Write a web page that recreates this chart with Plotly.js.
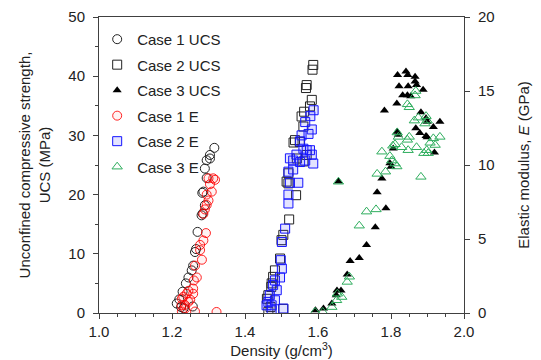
<!DOCTYPE html>
<html>
<head>
<meta charset="utf-8">
<script src="https://cdn.plot.ly/plotly-3.0.1.min.js"></script>
<style>
  html, body { margin: 0; padding: 0; background: #ffffff; }
  #chart { width: 541px; height: 360px; }
</style>
</head>
<body>
<div id="chart"></div>
<script>
// Case 1: UCS (MPa) and elastic modulus E (GPa) against density (g/cm3)
const case1UcsDensity = [1.213, 1.220, 1.225, 1.232, 1.229, 1.238, 1.245, 1.254, 1.257, 1.258, 1.263, 1.266, 1.270, 1.281, 1.284, 1.290, 1.283, 1.286, 1.295, 1.290, 1.295, 1.304, 1.304, 1.316];
const case1Ucs        = [1.6, 2.3, 1.0, 0.8, 3.6, 5.0, 6.0, 7.2, 1.1, 8.0, 10.3, 10.8, 13.7, 16.5, 16.8, 18.2, 20.3, 20.5, 22.8, 24.4, 25.8, 26.1, 26.7, 27.9];

const case1EDensity = [1.318, 1.313, 1.300, 1.304, 1.309, 1.295, 1.300, 1.295, 1.290, 1.286, 1.293, 1.286, 1.277, 1.277, 1.282, 1.263, 1.268, 1.260, 1.258, 1.245, 1.258, 1.240, 1.231, 1.227, 1.245, 1.226, 1.236, 1.227, 1.263, 1.322, 1.235, 1.250];
const case1E        = [9.0, 9.1, 9.1, 8.7, 8.2, 8.0, 7.6, 7.3, 7.0, 6.7, 5.4, 4.9, 4.6, 4.25, 3.6, 3.2, 2.4, 2.2, 1.65, 1.5, 1.3, 1.3, 1.1, 0.97, 0.75, 0.52, 0.3, 0.1, 0.1, 0.07, 0.55, 0.9];

// Case 2
const case2UcsDensity = [1.587, 1.585, 1.569, 1.567, 1.583, 1.578, 1.562, 1.555, 1.560, 1.537, 1.533, 1.550, 1.542, 1.560, 1.569, 1.519, 1.514, 1.519, 1.540, 1.521, 1.505, 1.500, 1.496, 1.482, 1.477, 1.473, 1.472, 1.464, 1.460, 1.470, 1.464, 1.505];
const case2Ucs        = [41.9, 41.1, 38.5, 38.0, 36.0, 34.9, 34.0, 33.2, 31.5, 29.2, 28.8, 28.9, 26.1, 25.6, 26.7, 23.6, 22.2, 21.9, 19.9, 15.8, 13.2, 12.3, 9.2, 7.2, 6.1, 5.0, 4.4, 3.0, 2.4, 1.0, 0.2, 0.7];

const case2EDensity = [1.588, 1.579, 1.565, 1.583, 1.574, 1.555, 1.551, 1.560, 1.569, 1.578, 1.523, 1.532, 1.551, 1.565, 1.587, 1.583, 1.541, 1.519, 1.532, 1.546, 1.523, 1.519, 1.519, 1.510, 1.501, 1.498, 1.501, 1.496, 1.482, 1.477, 1.487, 1.468, 1.464, 1.459, 1.473, 1.473, 1.505, 1.482];
const case2E        = [13.7, 13.3, 12.9, 12.4, 12.1, 12.0, 11.6, 11.1, 11.0, 11.0, 10.45, 10.3, 10.2, 10.3, 10.1, 10.7, 10.7, 9.55, 9.7, 8.8, 8.8, 8.0, 7.4, 5.7, 4.8, 3.57, 3.0, 2.4, 2.2, 1.9, 1.54, 1.2, 0.75, 0.52, 0.52, 0.18, 0.3, 0.86];

// Case 3
const case3UcsDensity = [1.818, 1.841, 1.846, 1.866, 1.866, 1.870, 1.822, 1.847, 1.832, 1.845, 1.854, 1.888, 1.816, 1.782, 1.882, 1.896, 1.899, 1.916, 1.934, 1.868, 1.879, 1.896, 1.899, 1.817, 1.820, 1.919, 1.806, 1.797, 1.800, 1.775, 1.656, 1.762, 1.786, 1.757, 1.733, 1.713, 1.688, 1.680, 1.663, 1.652, 1.650, 1.638, 1.615, 1.593];
const case3Ucs        = [40.2, 40.8, 40.2, 39.9, 39.1, 38.5, 38.3, 38.3, 36.8, 36.8, 36.6, 37.7, 35.4, 34.2, 33.9, 32.9, 32.3, 31.4, 32.3, 31.2, 30.4, 29.9, 29.7, 30.6, 30.1, 27.1, 27.8, 25.3, 24.7, 22.7, 22.2, 20.4, 17.7, 14.5, 11.5, 9.3, 8.8, 6.5, 3.8, 3.8, 3.0, 1.6, 0.75, 0.45];

const case3EDensity = [1.868, 1.866, 1.845, 1.850, 1.864, 1.875, 1.896, 1.899, 1.893, 1.934, 1.916, 1.921, 1.907, 1.898, 1.890, 1.902, 1.870, 1.850, 1.845, 1.817, 1.820, 1.811, 1.829, 1.847, 1.805, 1.797, 1.775, 1.802, 1.811, 1.816, 1.785, 1.762, 1.882, 1.656, 1.759, 1.733, 1.713, 1.686, 1.680, 1.665, 1.653, 1.651, 1.638, 1.613, 1.592];
const case3E        = [15.0, 14.7, 14.1, 13.9, 13.0, 13.2, 13.3, 13.0, 12.8, 11.9, 11.8, 11.35, 11.5, 11.0, 10.8, 10.8, 11.2, 11.9, 11.7, 12.2, 11.9, 11.4, 11.2, 11.0, 11.3, 10.6, 10.9, 10.3, 10.1, 9.9, 9.55, 9.4, 9.2, 8.87, 7.0, 6.85, 5.9, 2.45, 2.1, 1.08, 1.3, 0.86, 0.4, 0.07, 0.07];

const seriesNames = ['Case 1 UCS', 'Case 2 UCS', 'Case 3 UCS', 'Case 1 E', 'Case 2 E', 'Case 3 E'];

const FONT = 'Liberation Sans, Arial, sans-serif';
const GREEN = '#2fae5e';
const TEXT = '#222222';

function scatter(name, x, y, axis, marker, group) {
  return {
    type: 'scatter', mode: 'markers', name: name, x: x, y: y, yaxis: axis,
    legendgroup: group, marker: marker, hoverinfo: 'x+y'
  };
}

const traces = [
  scatter(seriesNames[0], case1UcsDensity, case1Ucs, 'y',
    {symbol: 'circle-open', size: 9, color: '#222222', line: {width: 1}}, 'g1'),
  scatter(seriesNames[1], case2UcsDensity, case2Ucs, 'y',
    {symbol: 'square-open', size: 9, color: '#222222', line: {width: 1}}, 'g2'),
  scatter(seriesNames[2], case3UcsDensity, case3Ucs, 'y',
    {symbol: 'triangle-up', size: 8, color: '#000000', line: {width: 0}}, 'g3'),
  scatter(seriesNames[3], case1EDensity, case1E, 'y2',
    {symbol: 'circle', size: 9, color: 'rgba(255,0,0,0.05)', line: {width: 1, color: 'rgba(255,0,0,0.85)'}}, 'g4'),
  scatter(seriesNames[4], case2EDensity, case2E, 'y2',
    {symbol: 'square', size: 9, color: 'rgba(70,70,255,0.15)', line: {width: 1, color: '#1414ff'}}, 'g5'),
  scatter(seriesNames[5], case3EDensity, case3E, 'y2',
    {symbol: 'triangle-up-open', size: 9, color: GREEN, line: {width: 1}}, 'g6')
];

const axisLine = '#404040';
const tickFont = {family: FONT, size: 15, color: TEXT};
const titleFont = {family: FONT, size: 15, color: TEXT};

const layout = {
  width: 541, height: 360,
  margin: {l: 99, r: 77, t: 17, b: 47},
  paper_bgcolor: '#ffffff', plot_bgcolor: '#ffffff',
  font: {family: FONT, size: 15, color: TEXT},
  showlegend: true,
  legend: {
    x: -0.005, y: 0.98, xanchor: 'left', yanchor: 'top',
    bgcolor: 'rgba(0,0,0,0)', font: {family: FONT, size: 15, color: TEXT},
    traceorder: 'grouped', tracegroupgap: 3, itemwidth: 30
  },
  xaxis: {
    range: [1.0, 2.0], dtick: 0.2, tick0: 1.0, tickformat: '.1f',
    ticks: 'outside', ticklen: 5, tickwidth: 1, tickcolor: axisLine,
    minor: {dtick: 0.05, ticks: 'outside', ticklen: 3, tickcolor: axisLine},
    showline: true, linecolor: axisLine, linewidth: 1, mirror: true,
    showgrid: false, zeroline: false, tickfont: tickFont,
    title: {text: 'Density (g/cm<sup>3</sup>)', font: titleFont, standoff: 6}
  },
  yaxis: {
    range: [0, 50], dtick: 10, tick0: 0,
    ticks: 'outside', ticklen: 5, tickwidth: 1, tickcolor: axisLine,
    minor: {dtick: 5, ticks: 'outside', ticklen: 3, tickcolor: axisLine},
    showline: true, linecolor: axisLine, linewidth: 1,
    showgrid: false, zeroline: false, tickfont: tickFont, ticklabelstandoff: 5,
    title: {text: 'Unconfined compressive strength,<br>UCS (MPa)', font: titleFont, standoff: 14}
  },
  yaxis2: {
    range: [0, 20], dtick: 5, tick0: 0, overlaying: 'y', side: 'right',
    ticks: 'outside', ticklen: 5, tickwidth: 1, tickcolor: axisLine,
    showline: true, linecolor: axisLine, linewidth: 1,
    showgrid: false, zeroline: false, tickfont: tickFont, ticklabelstandoff: 5,
    title: {text: 'Elastic modulus, <i>E</i> (GPa)', font: titleFont, standoff: 24}
  }
};

Plotly.newPlot('chart', traces, layout, {displayModeBar: false, staticPlot: true});
</script>
</body>
</html>
